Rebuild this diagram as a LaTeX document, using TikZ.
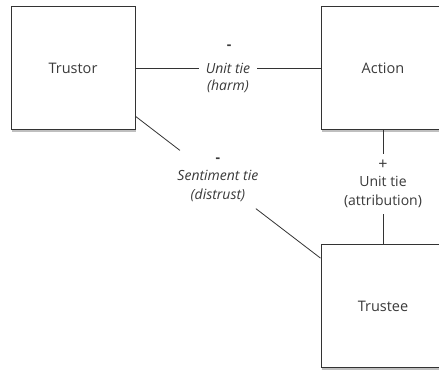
\documentclass[tikz,border=0pt]{standalone}
\usepackage{fontspec}
\setmainfont{Open Sans}
\usetikzlibrary{shadows,calc}
\definecolor{ink}{HTML}{333333}
\definecolor{txt}{HTML}{3A3A3A}
\tikzset{
  entity/.style={draw=ink, line width=1pt, fill=white,
    minimum width=124pt, minimum height=123pt, inner sep=0pt,
    text=txt, font=\fontsize{14.5}{19}\selectfont,
    drop shadow={shadow xshift=0.6pt, shadow yshift=-2.2pt, fill=black, opacity=0.25}},
  tie/.style={draw=ink, line width=0.8pt},
  tielabel/.style={text=txt, font=\fontsize{14}{19}\selectfont, align=center, inner sep=0pt},
  sign/.style={text=txt, font=\fontsize{14}{19}\selectfont\bfseries, inner sep=0pt}
}
\begin{document}
\begin{tikzpicture}[x=1pt, y=-1pt]
  \clip (0,0) rectangle (439,371);
  \fill[white] (0,0) rectangle (439,371);

  % actors and action
  \node[entity] (trustor) at (73,68.5) {Trustor};
  \node[entity] (action)  at (383,68.5) {Action};
  \node[entity] (trustee) at (383,306) {Trustee};

  % unit tie between trustor and action
  \node[tielabel, inner xsep=7pt, font=\fontsize{14}{19}\selectfont\itshape] (harm) at ($(trustor.east)!0.5!(action.west)$) {Unit tie};
  \node[sign] (harmsign) at ($(harm.center)+(1,-21)$) {-};
  \node[tielabel, font=\fontsize{14}{19}\selectfont\itshape] (harmnote) at ($(harm.center)+(0,18)$) {(harm)};
  \draw[tie] (trustor) -- (harm) -- (action);

  % sentiment tie between trustor and trustee
  \node[tielabel, inner xsep=5pt, inner ysep=7pt] (distrust) at ($(trustor.center)!0.4675!(trustee.center)$)
    {\textbf{-}\\[-1pt] \textit{Sentiment tie}\\ \textit{(distrust)}};
  \draw[tie] (trustor) -- (distrust) -- (trustee);

  % unit tie between action and trustee
  \node[tielabel, inner ysep=6pt] (attribution) at (383,184)
    {\fontsize{16}{19}\selectfont +\\[-2pt] Unit tie\\ (attribution)};
  \draw[tie] (action) -- (attribution) -- (trustee);
\end{tikzpicture}
\end{document}
